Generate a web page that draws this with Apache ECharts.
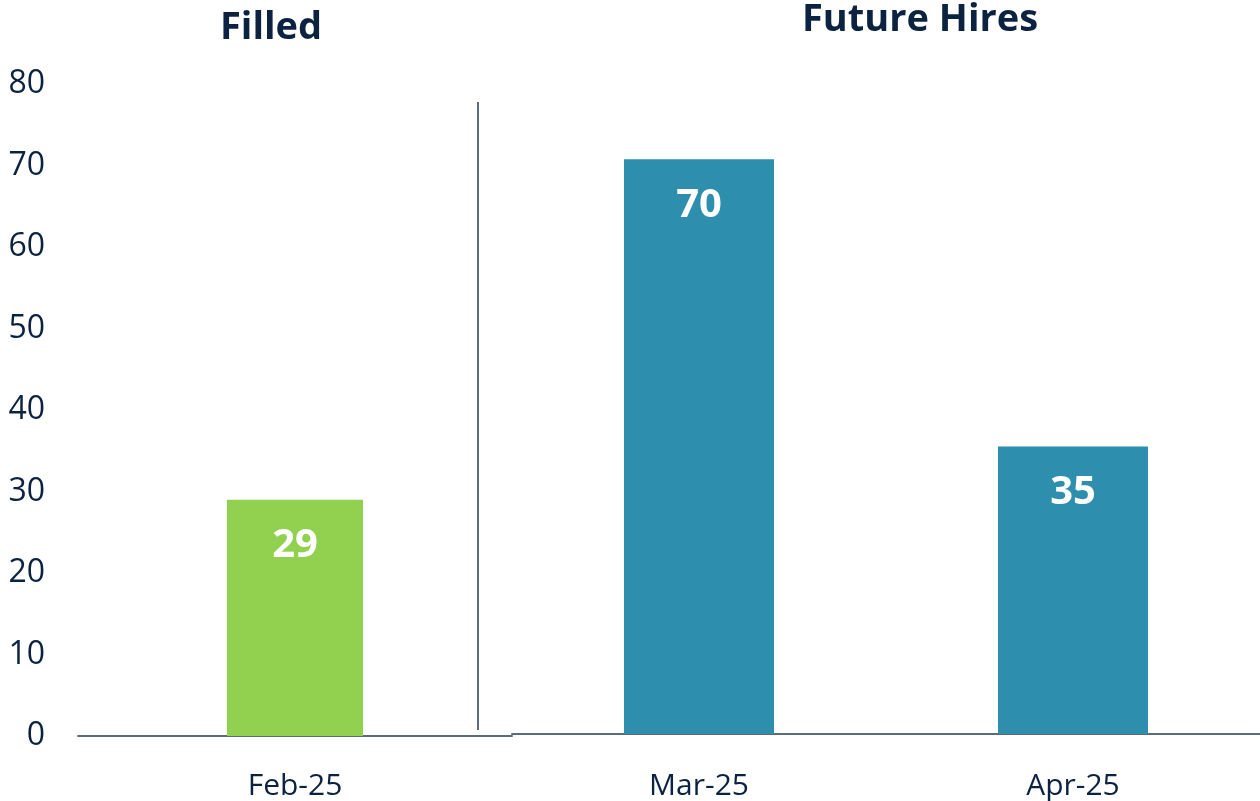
<!DOCTYPE html>
<html><head><meta charset="utf-8">
<script src="https://cdn.jsdelivr.net/npm/echarts@6/dist/echarts.min.js"></script>
<style>html,body{margin:0;padding:0;background:#fff}#c{width:1260px;height:801px}</style>
</head><body><div id="c"></div>
<script>
const filledCategories = ['Feb-25'];
const filledValues = [29];
const futureCategories = ['Mar-25', 'Apr-25'];
const futureValues = [70, 35];
const yTicks = [0, 10, 20, 30, 40, 50, 60, 70, 80];
const titles = ['Filled', 'Future Hires'];

const textColor = '#0B2341';
const axisColor = '#5B6B7B';
const font = 'Open Sans';

const chart = echarts.init(document.getElementById('c'), null, {renderer: 'canvas'});
const labelStyle = {
  show: true, position: 'insideTop', distance: 26,
  color: '#fff', fontFamily: font, fontWeight: 'bold', fontSize: 40
};
chart.setOption({
  animation: false,
  title: [
    {text: titles[0], left: 266, top: 4, textAlign: 'center',
     textStyle: {fontFamily: font, fontWeight: 'bold', fontSize: 38, color: textColor}},
    {text: titles[1], left: 915, top: -4, textAlign: 'center',
     textStyle: {fontFamily: font, fontWeight: 'bold', fontSize: 38, color: textColor}}
  ],
  grid: [
    {left: 78, width: 434, top: 84, height: 652},
    {left: 512, width: 748, top: 77, height: 657}
  ],
  xAxis: [
    {type: 'category', gridIndex: 0, data: filledCategories,
     axisLine: {lineStyle: {color: axisColor, width: 2}}, axisTick: {show: false},
     axisLabel: {color: textColor, fontFamily: font, fontSize: 30, margin: 35}},
    {type: 'category', gridIndex: 1, data: futureCategories,
     axisLine: {lineStyle: {color: axisColor, width: 2}}, axisTick: {show: false},
     axisLabel: {color: textColor, fontFamily: font, fontSize: 30, margin: 37}}
  ],
  yAxis: [
    {type: 'value', gridIndex: 0, min: yTicks[0], max: yTicks[yTicks.length - 1], interval: 10,
     axisLine: {show: false}, axisTick: {show: false}, splitLine: {show: false},
     axisLabel: {color: textColor, fontFamily: font, fontSize: 32, margin: 33, padding: [6, 0, 0, 0]}},
    {type: 'value', gridIndex: 1, min: yTicks[0], max: yTicks[yTicks.length - 1], interval: 10,
     axisLine: {show: false}, axisTick: {show: false}, splitLine: {show: false},
     axisLabel: {show: false}}
  ],
  series: [
    {type: 'bar', xAxisIndex: 0, yAxisIndex: 0, data: filledValues, barWidth: 136,
     itemStyle: {color: '#92D050'}, label: labelStyle},
    {type: 'bar', xAxisIndex: 1, yAxisIndex: 1, data: futureValues, barWidth: 150,
     itemStyle: {color: '#2E8EAD'}, label: labelStyle}
  ],
  graphic: [
    {type: 'line', shape: {x1: 478, y1: 102, x2: 478, y2: 730},
     style: {stroke: axisColor, lineWidth: 2}}
  ]
});
</script></body></html>
